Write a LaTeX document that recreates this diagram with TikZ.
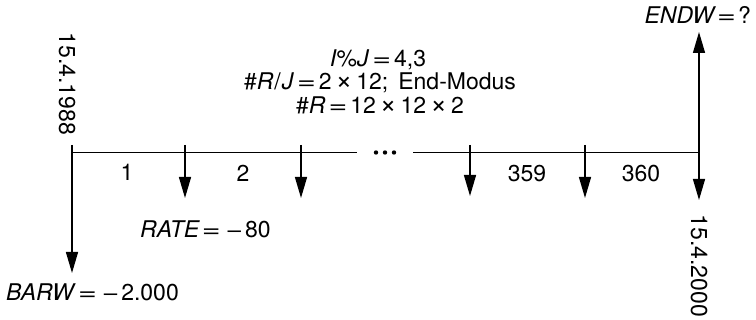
\documentclass[tikz,border=0pt]{standalone}
\usepackage{fontspec}
\usepackage{graphicx}
\setmainfont{TeX Gyre Heros}
\usetikzlibrary{arrows.meta}
\newcommand{\myeq}{\scalebox{1.4}[1]{=}}
\newcommand{\mytimes}{\scalebox{1.25}{×}}
\newcommand{\myminus}{\scalebox{1.3}[1]{−}}
\tikzset{
  arr/.style={line width=1.4pt, -{Triangle[length=21pt,width=12pt]}},
  tline/.style={line width=1.4pt},
  lbl/.style={inner sep=0pt, font=\fontsize{23}{27}\selectfont},
  dot/.style={circle, fill=black, inner sep=0pt, minimum size=4.4pt},
}
\begin{document}
\begin{tikzpicture}[x=1pt,y=-1pt]
\useasboundingbox (0,0) rectangle (756,320);
% timeline
\coordinate (L) at (72,152.5);
\coordinate (M1) at (357,152.5);
\coordinate (M2) at (413,152.5);
\coordinate (R) at (699,152.5);
\draw[tline] (L) -- (M1);
\draw[tline] (M2) -- (R);
\node[dot] (d1) at (376,152.5) {};
\node[dot] (d2) at (385,152.5) {};
\node[dot] (d3) at (394,152.5) {};
% arrows
\coordinate (t0) at (72,145);  \coordinate (b0) at (72,273);
\coordinate (t1) at (185,145); \coordinate (b1) at (185,198);
\coordinate (t2) at (301,145); \coordinate (b2) at (301,198);
\coordinate (t3) at (470,145); \coordinate (b3) at (470,196);
\coordinate (t4) at (585,145); \coordinate (b4) at (585,198);
\coordinate (b5) at (699,200);
\coordinate (u5) at (699,32);
\draw[arr] (t0) -- (b0);
\draw[arr] (t1) -- (b1);
\draw[arr] (t2) -- (b2);
\draw[arr] (t3) -- (b3);
\draw[arr] (t4) -- (b4);
\draw[arr] (R) -- (b5);
\draw[arr] (R) -- (u5);
% period numbers
\node[lbl] (n1) at (127,172) {1};
\node[lbl] (n2) at (243,173) {2};
\node[lbl] (n359) at (527,174) {359};
\node[lbl] (n360) at (641,174) {360};
% dates
\node[lbl, rotate=-90] (date1) at (67,84) {15.4.1988};
\node[lbl, rotate=-90] (date2) at (699,266) {15.4.2000};
% value labels
\node[lbl, anchor=base west] (barw) at (6,301) {\textit{BARW}\hspace{2pt}\myeq\hspace{5pt}\myminus\hspace{2pt}2.000};
\node[lbl, anchor=base west] (rate) at (140,238) {\textit{RATE}\hspace{2pt}\myeq\hspace{5pt}\myminus\hspace{2pt}80};
\node[lbl, anchor=base east] (endw) at (751,24) {\textit{ENDW}\hspace{1pt}\myeq\hspace{2pt}?};
% central text
\node[lbl, anchor=base] (c1) at (378,67) {\textit{I}\%\textit{J}\hspace{3pt}\myeq\hspace{3pt}4,3};
\node[lbl, anchor=base] (c2) at (380,90) {\#\textit{R}\hspace{1pt}/\hspace{1pt}\textit{J}\hspace{3pt}\myeq\hspace{3pt}2\hspace{4pt}\mytimes\hspace{4pt}12;\hspace{10pt}End-Modus};
\node[lbl, anchor=base] (c3) at (380,114) {\#\textit{R}\hspace{3pt}\myeq\hspace{3pt}12\hspace{4pt}\mytimes\hspace{4pt}12\hspace{4pt}\mytimes\hspace{4pt}2};
\end{tikzpicture}
\end{document}
